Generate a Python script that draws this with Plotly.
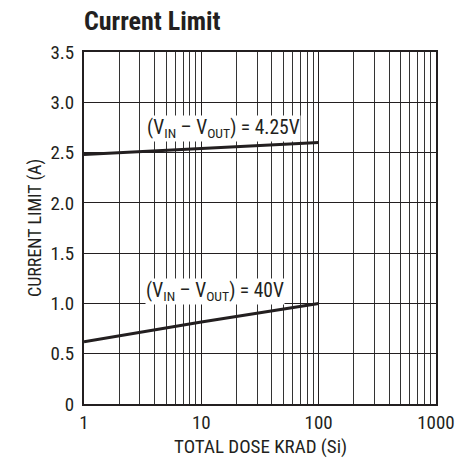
import plotly.graph_objects as go

# data
dose_4v25 = [1, 100]
cur_4v25 = [2.48, 2.60]
dose_40v = [1, 10, 100]
cur_40v = [0.62, 0.815, 1.0]
x_ticks = [1, 10, 100, 1000]
x_ticklabels = ["1", "10", "100", "1000"]
y_ticks = [0, 0.5, 1.0, 1.5, 2.0, 2.5, 3.0, 3.5]
y_ticklabels = ["0", "0.5", "1.0", "1.5", "2.0", "2.5", "3.0", "3.5"]
label_4v25 = "(V<sub>IN</sub> – V<sub>OUT</sub>) = 4.25V"
label_40v = "(V<sub>IN</sub> – V<sub>OUT</sub>) = 40V"
x_title = "TOTAL DOSE KRAD (Si)"
y_title = "CURRENT LIMIT (A)"
chart_title = "Current Limit"

FONT = "Liberation Sans Narrow, Arial Narrow, Roboto Condensed, Liberation Sans, sans-serif"
INK = "#231f20"

L, R, T, B = 84, 33, 52, 56
W, H = 469, 460
PW, PH = W - L - R, H - T - B

fig = go.Figure()
fig.add_trace(go.Scatter(x=dose_4v25, y=cur_4v25, mode="lines",
                         line=dict(color=INK, width=3), showlegend=False))
fig.add_trace(go.Scatter(x=dose_40v, y=cur_40v, mode="lines",
                         line=dict(color=INK, width=3), showlegend=False))

fig.add_annotation(x=1.19, y=2.74, xref="x", yref="y", text=label_4v25,
                   showarrow=False, bgcolor="white",
                   font=dict(family=FONT, size=19.5, color=INK), borderpad=0)
fig.add_annotation(x=1.117, y=1.12, xref="x", yref="y", text=label_40v,
                   showarrow=False, bgcolor="white",
                   font=dict(family=FONT, size=19.5, color=INK), borderpad=0)

# axis titles
fig.add_annotation(x=(35 - L) / PW, y=0.5, xref="paper", yref="paper",
                   text=y_title, textangle=-90, showarrow=False,
                   xanchor="center", yanchor="middle",
                   font=dict(family=FONT, size=18, color=INK))
fig.add_annotation(x=0.5, y=-(446 - (T + PH)) / PH, xref="paper", yref="paper",
                   text=x_title, showarrow=False,
                   xanchor="center", yanchor="middle",
                   font=dict(family=FONT, size=19, color=INK))

fig.update_layout(
    width=W, height=H,
    margin=dict(l=L, r=R, t=T, b=B),
    paper_bgcolor="white", plot_bgcolor="white",
    font=dict(family=FONT, color=INK),
    title=dict(text="<b>" + chart_title + "</b>", x=L / W, xanchor="left",
               y=1 - 21 / H, yanchor="middle",
               font=dict(family=FONT, size=26, color=INK)),
)
fig.update_xaxes(type="log", range=[0, 3], tickvals=x_ticks, ticktext=x_ticklabels,
                 showgrid=True, gridcolor=INK, gridwidth=1,
                 minor=dict(dtick="D1", showgrid=True, gridcolor="#333", gridwidth=1, ticks=""),
                 showline=True, linecolor=INK, linewidth=2, mirror=True,
                 ticks="", ticklabelstandoff=0, tickfont=dict(family=FONT, size=19, color=INK),
                 automargin=False, zeroline=False)
fig.update_yaxes(range=[0, 3.5], tickvals=y_ticks, ticktext=y_ticklabels,
                 showgrid=True, gridcolor=INK, gridwidth=1,
                 showline=True, linecolor=INK, linewidth=2, mirror=True,
                 ticks="", ticklabelstandoff=4, tickfont=dict(family=FONT, size=19, color=INK),
                 automargin=False, zeroline=False)

fig.write_html("out.html", config={"displayModeBar": False},
               post_script="document.body.style.margin='0';document.body.style.overflow='hidden';")
